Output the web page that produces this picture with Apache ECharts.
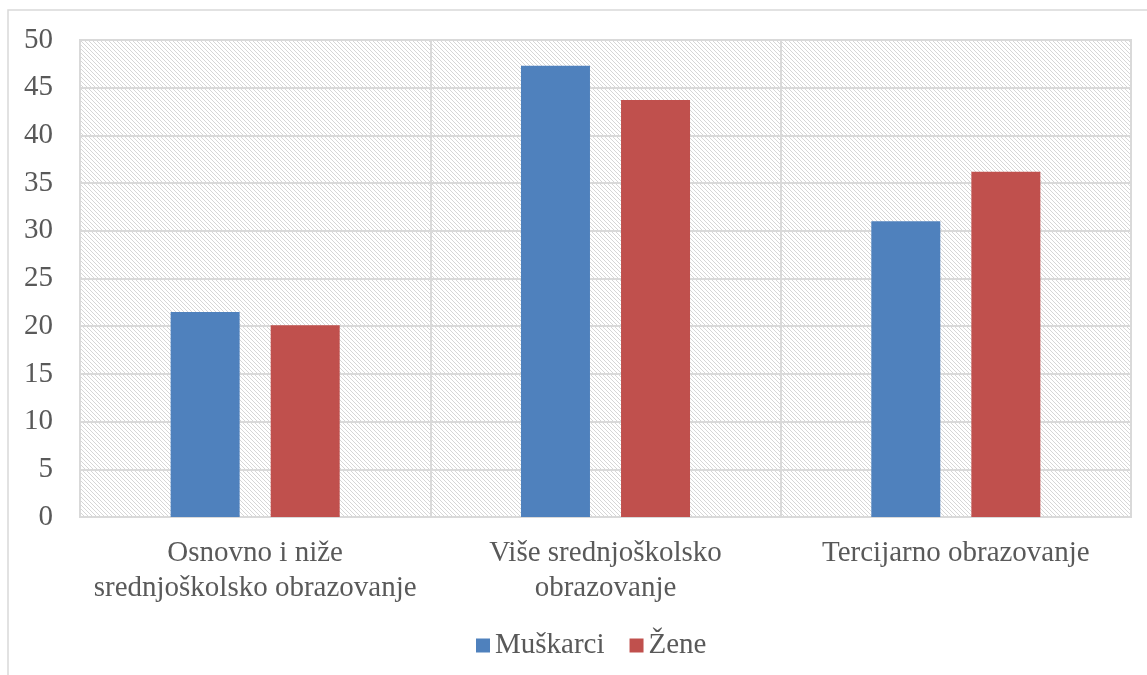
<!DOCTYPE html>
<html>
<head>
<meta charset="utf-8">
<script src="https://cdn.jsdelivr.net/npm/echarts@6/dist/echarts.min.js"></script>
<style>
  html, body { margin: 0; padding: 0; background: #fff; }
  #chart { width: 1147px; height: 675px; }
</style>
</head>
<body>
<div id="chart"></div>
<script>
// data
const categories = [
  "Osnovno i niže\nsrednjoškolsko obrazovanje",
  "Više srednjoškolsko\nobrazovanje",
  "Tercijarno obrazovanje"
];
const muskarci = [21.5, 47.3, 31.0];
const zene = [20.1, 43.7, 36.2];

// diagonal hatch for the plot area
function hatchPattern() {
  const c = document.createElement("canvas");
  c.width = 4;
  c.height = 4;
  const ctx = c.getContext("2d");
  ctx.fillStyle = "#ffffff";
  ctx.fillRect(0, 0, 4, 4);
  ctx.fillStyle = "#d6d6d6";
  for (let i = 0; i < 4; i++) ctx.fillRect(i, i, 1, 1);
  return { image: c, repeat: "repeat" };
}

const chart = echarts.init(document.getElementById("chart"));
const font = "'Liberation Serif', 'Times New Roman', serif";

chart.setOption({
  backgroundColor: "#fff",
  textStyle: { fontFamily: font },
  graphic: [
    {
      type: "polyline",
      shape: { points: [[8, 675], [8, 10], [1147, 10]] },
      style: { stroke: "#d9d9d9", lineWidth: 1.5, fill: null },
      silent: true
    }
  ],
  grid: {
    left: 80,
    right: 16,
    top: 40,
    bottom: 158,
    show: true,
    backgroundColor: hatchPattern(),
    borderColor: "#d9d9d9",
    borderWidth: 2
  },
  legend: {
    top: 626,
    left: 471,
    itemWidth: 14,
    itemHeight: 14,
    itemGap: 25,
    icon: "rect",
    textStyle: { fontFamily: font, fontSize: 29, color: "#595959" },
    data: ["Muškarci", "Žene"]
  },
  xAxis: {
    type: "category",
    data: categories,
    axisLine: { lineStyle: { color: "#d9d9d9", width: 2 } },
    axisTick: { show: false },
    splitLine: { show: true, lineStyle: { color: "#d9d9d9", width: 2 } },
    axisLabel: {
      fontFamily: font,
      fontSize: 29,
      color: "#595959",
      lineHeight: 35,
      margin: 19,
      interval: 0
    }
  },
  yAxis: {
    type: "value",
    min: 0,
    max: 50,
    interval: 5,
    axisLine: { show: false },
    axisTick: { show: false },
    splitLine: { lineStyle: { color: "#d9d9d9", width: 2 } },
    axisLabel: {
      fontFamily: font,
      fontSize: 29,
      color: "#595959",
      margin: 27
    }
  },
  series: [
    {
      name: "Muškarci",
      type: "bar",
      data: muskarci,
      barWidth: 69,
      barGap: "45%",
      itemStyle: { color: "#4F81BD" }
    },
    {
      name: "Žene",
      type: "bar",
      data: zene,
      barWidth: 69,
      itemStyle: { color: "#C0504D" }
    }
  ]
});
</script>
</body>
</html>
